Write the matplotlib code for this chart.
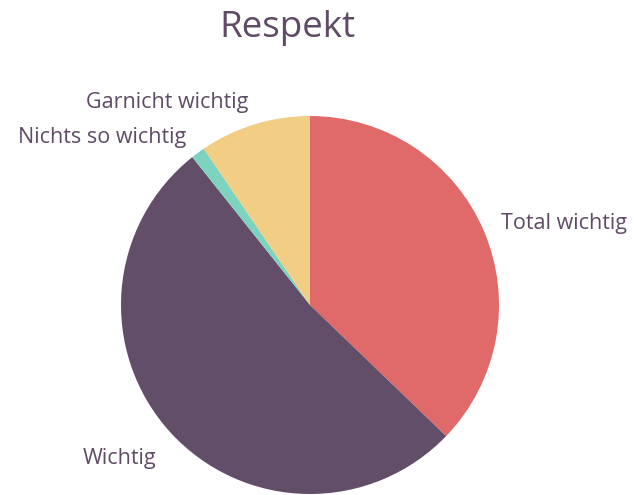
import matplotlib.pyplot as plt

labels = ["Total wichtig", "Wichtig", "Nichts so wichtig", "Garnicht wichtig"]
values = [37.2, 52.1, 1.2, 9.5]
colors = ["#E0696A", "#634E69", "#7DD3C0", "#F2CD84"]
text_color = "#5F4B66"

plt.rcParams["font.family"] = ["Open Sans", "DejaVu Sans"]

fig = plt.figure(figsize=(6.34, 4.95), dpi=100)
ax = fig.add_axes([121 / 634, 1 / 495, 378 / 634, 378 / 495])

wedges, texts = ax.pie(
    values,
    labels=labels,
    colors=colors,
    startangle=90,
    counterclock=False,
    labeldistance=1.1,
    textprops={"color": text_color, "fontsize": 15.5},
)
ax.set_xlim(-1, 1)
ax.set_ylim(-1, 1)
ax.set_aspect("equal")

# small nudges to match label placement
x, y = texts[1].get_position()
texts[1].set_position((x, y - 0.07))
x, y = texts[3].get_position()
texts[3].set_position((x, y + 0.02))

fig.text(287 / 634, 1 - 28 / 495, "Respekt", ha="center", va="center",
         fontsize=26.5, color=text_color)

fig.savefig("out.png", dpi=100)
